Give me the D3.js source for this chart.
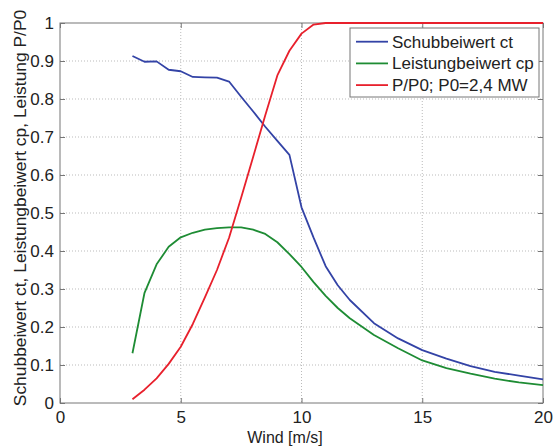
<!DOCTYPE html>
<html><head><meta charset="utf-8">
<script src="https://cdn.jsdelivr.net/npm/d3@7"></script>
<style>
body{margin:0;background:#fff;}
text{font-family:"Liberation Sans",Arial,sans-serif;fill:#222;}
</style></head>
<body>
<svg id="chart" width="554" height="448"></svg>
<script>
const wind = [3,3.5,4,4.5,5,5.5,6,6.5,7,7.5,8,8.5,9,9.5,10,10.5,11,11.5,12,13,14,15,16,17,18,19,20];
const ct   = [0.913,0.898,0.899,0.877,0.873,0.858,0.857,0.856,0.846,0.806,0.767,0.727,0.690,0.653,0.515,0.435,0.360,0.310,0.271,0.210,0.170,0.139,0.117,0.097,0.082,0.072,0.062];
const cp   = [0.131,0.290,0.365,0.411,0.436,0.448,0.456,0.460,0.462,0.462,0.456,0.445,0.423,0.392,0.358,0.318,0.282,0.250,0.223,0.179,0.144,0.112,0.092,0.077,0.064,0.054,0.047];
const pp0  = [0.010,0.035,0.065,0.103,0.148,0.208,0.278,0.350,0.435,0.540,0.648,0.757,0.862,0.927,0.972,0.996,1,1,1,1,1,1,1,1,1,1,1];
const seriesNames = ["Schubbeiwert ct","Leistungbeiwert cp","P/P0; P0=2,4 MW"];
const seriesColors = ["#3343a6","#1e8c34","#e8202c"];
const xTicks = [0,5,10,15,20];
const yTicks = [0,0.1,0.2,0.3,0.4,0.5,0.6,0.7,0.8,0.9,1];
const xLabel = "Wind [m/s]";
const yLabel = "Schubbeiwert ct, Leistungbeiwert cp, Leistung P/P0";

const svg = d3.select("#chart");
const L=60, R=543, T=23, B=403;
const x = d3.scaleLinear().domain([0,20]).range([L,R]);
const y = d3.scaleLinear().domain([0,1]).range([B,T]);

// grid
const g = svg.append("g");
g.selectAll(".gx").data(xTicks.slice(1,-1)).enter().append("line")
  .attr("x1",d=>x(d)).attr("x2",d=>x(d)).attr("y1",T).attr("y2",B)
  .attr("stroke","#bbb").attr("stroke-width",1).attr("stroke-dasharray","1,2");
g.selectAll(".gy").data(yTicks.slice(1,-1)).enter().append("line")
  .attr("y1",d=>y(d)).attr("y2",d=>y(d)).attr("x1",L).attr("x2",R)
  .attr("stroke","#bbb").attr("stroke-width",1).attr("stroke-dasharray","1,2");

// axes with inward ticks
const fmt = d=> d===0?"0":(d===1?"1":d3.format(".1f")(d));
const ax = svg.append("g").attr("transform",`translate(0,${B})`)
  .call(d3.axisBottom(x).tickValues(xTicks).tickSizeInner(-5).tickSizeOuter(0).tickPadding(8));
const ay = svg.append("g").attr("transform",`translate(${L},0)`)
  .call(d3.axisLeft(y).tickValues(yTicks).tickFormat(fmt).tickSizeInner(-5).tickSizeOuter(0).tickPadding(6));
const ax2 = svg.append("g").attr("transform",`translate(0,${T})`)
  .call(d3.axisTop(x).tickValues(xTicks).tickSizeInner(-5).tickSizeOuter(0).tickFormat(""));
const ay2 = svg.append("g").attr("transform",`translate(${R},0)`)
  .call(d3.axisRight(y).tickValues(yTicks).tickSizeInner(-5).tickSizeOuter(0).tickFormat(""));
[ax,ay,ax2,ay2].forEach(a=>{
  a.select(".domain").remove();
  a.selectAll(".tick line").attr("stroke","#777");
  a.selectAll("text").style("font-size","17px").attr("fill","#222")
    .style("font-family",'"Liberation Sans",Arial,sans-serif');
});

// frame
svg.append("rect").attr("x",L).attr("y",T).attr("width",R-L).attr("height",B-T)
  .attr("fill","none").attr("stroke","#777").attr("stroke-width",1);

// lines
const allSeries=[ct,cp,pp0];
const line = d3.line().x((d,i)=>x(wind[i])).y(d=>y(d));
allSeries.forEach((s,k)=>{
  svg.append("path").datum(s).attr("d",line).attr("fill","none")
    .attr("stroke",seriesColors[k]).attr("stroke-width",1.8).attr("stroke-linejoin","round");
});

// labels
svg.append("text").attr("x",285).attr("y",443).attr("text-anchor","middle")
  .style("font-size","16px").text(xLabel);
svg.append("text").attr("transform",`translate(26,208) rotate(-90)`).attr("text-anchor","middle")
  .style("font-size","17.4px").text(yLabel);

// legend
const lg = svg.append("g");
lg.append("rect").attr("x",350).attr("y",28).attr("width",189).attr("height",69)
  .attr("fill","#fff").attr("stroke","#777").attr("stroke-width",1);
seriesNames.forEach((n,k)=>{
  const yy = 41.7 + k*21.7;
  lg.append("line").attr("x1",356).attr("x2",388).attr("y1",yy).attr("y2",yy)
    .attr("stroke",seriesColors[k]).attr("stroke-width",1.8);
  lg.append("text").attr("x",392).attr("y",yy).attr("dy","0.35em")
    .style("font-size","17px").text(n);
});
</script>
</body></html>
